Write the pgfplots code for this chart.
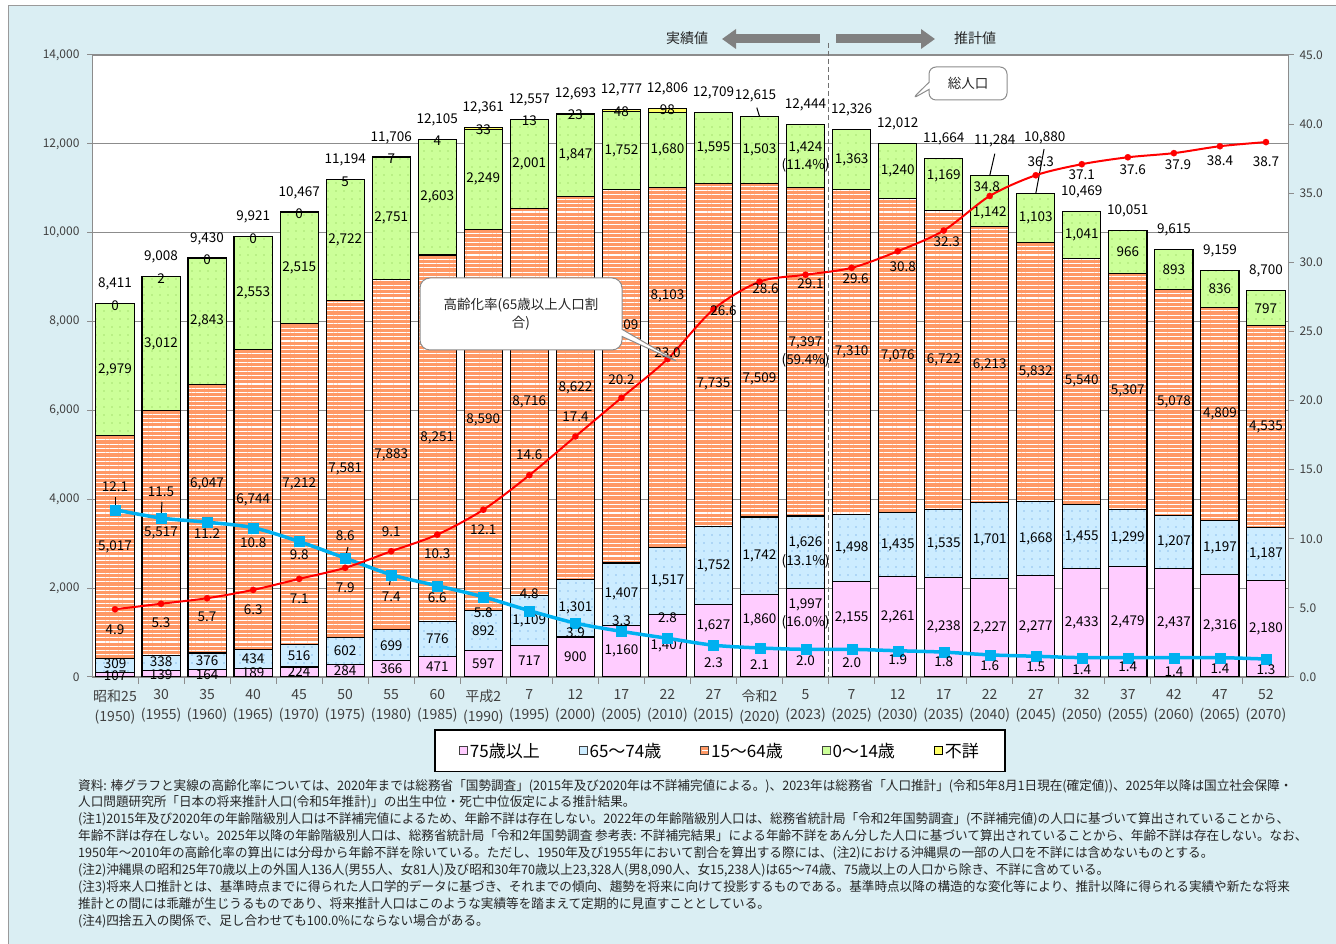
\documentclass[border=0pt]{standalone}
\usepackage{fontspec}
\setmainfont{Noto Sans CJK JP}
\usepackage{graphicx}
\usepackage{pgfplots}
\usepackage{pgfplotstable}
\pgfplotsset{compat=1.18}
\usetikzlibrary{patterns.meta,shapes.callouts,arrows.meta}

\definecolor{bgblue}{HTML}{DAEEF3}
\definecolor{framegray}{HTML}{9A9A9A}
\definecolor{c75}{HTML}{FFCCFF}
\definecolor{c65}{HTML}{CCECFF}
\definecolor{c15}{HTML}{FF9966}
\definecolor{c0}{HTML}{CCFF99}
\definecolor{cun}{HTML}{FFFF66}
\definecolor{dot65}{HTML}{4A90D9}
\definecolor{dot0}{HTML}{7CBF45}
\definecolor{lred}{HTML}{FF0000}
\definecolor{lblue}{HTML}{00B0F0}
\definecolor{tickgray}{HTML}{404040}
\definecolor{axgray}{HTML}{8C8C8C}
\definecolor{arrowgray}{HTML}{808080}

% a,b,c,d,e: 75+, 65-74, 15-64, 0-14, unknown (10k persons); t: total
% r: aging rate (%); w: persons 15-64 per person 65+
% *dy, *dx: label offsets in pt; pa..pd: shares in 2023 (%)
\pgfplotstableread{
x a b c d e t r w ady bdy cdy ddy pa pb pc pd tdy tdx rdy rdx wdy wdx
0 107 309 5017 2979 0 8411 4.9 12.1 -1 2 0 0 0 0 0 0 19.5 0 -20 0 23 0
1 139 338 5517 3012 2 9008 5.3 11.5 -1 2 0 0 0 0 0 0 19.5 0 -19 0 26 0
2 164 376 6047 2843 0 9430 5.7 11.2 -1 1 35 0 0 0 0 0 19.5 0 -19 0 -11 0
3 189 434 6744 2553 0 9921 6.3 10.8 0 0 0 0 0 0 0 0 19.5 0 -20 0 -15 0
4 224 516 7212 2515 0 10467 7.1 9.8 0 0 0 0 0 0 0 0 19.5 0 -20 0 -13 0
5 284 602 7581 2722 5 11194 7.9 8.6 0 0 0 0 0 0 0 0 19.5 0 -20 0 22 0
6 366 699 7883 2751 7 11706 9.1 7.4 0 0 0 0 0 0 0 0 19.5 0 20 0 -22 0
7 471 776 8251 2603 4 12105 10.3 6.6 0 0 0 0 0 0 0 0 19.5 0 -19 0 -12 0
8 597 892 8590 2249 33 12361 12.1 5.8 0 0 0 0 0 0 0 0 19.5 0 -20 0 -16 0
9 717 1109 8716 2001 13 12557 14.6 4.8 0 0 0 0 0 0 0 0 19.5 0 21 0 17 0
10 900 1301 8622 1847 23 12693 17.4 3.9 0 0 0 0 0 0 0 0 19.5 0 20 0 -10 0
11 1160 1407 8409 1752 48 12777 20.2 3.3 0 0 50 0 0 0 0 0 19.5 0 18 0 11 0
12 1407 1517 8103 1680 98 12806 23.0 2.8 0 0 71 0 0 0 0 0 19.5 0 6 0 21 0
13 1627 1752 7735 1595 0 12709 26.6 2.3 15 0 -29 0 0 0 0 0 19.5 0 -1 10 -17 0
14 1860 1742 7509 1503 0 12615 28.6 2.1 16 0 -29 0 0 0 0 0 21 -4 -7 6 -17 0
15 1997 1626 7397 1424 0 12444 29.1 2.0 28 9 9 8 16.0 13.1 59.4 11.4 19.5 0 -9 5 -11 0
16 2155 1498 7310 1363 0 12326 29.6 2.0 11 0 0 0 0 0 0 0 19.5 0 -11 4 -13 0
17 2261 1435 7076 1240 0 12012 30.8 1.9 10 0 0 0 0 0 0 0 19.5 0 -15 5 -9 0
18 2238 1535 6722 1169 0 11664 32.3 1.8 0 0 0 9 0 0 0 0 19.5 0 -11 3 -10 0
19 2227 1701 6213 1142 0 11284 34.8 1.6 0 0 0 -12 0 0 0 0 35 5 9 -3 -11 0
20 2277 1668 5832 1103 0 10880 36.3 1.5 0 0 0 0 0 0 0 0 56 9 14 5 -11 0
21 2433 1455 5540 1041 0 10469 37.1 1.4 0 0 0 0 0 0 0 0 19.5 0 -10 0 -12 0
22 2479 1299 5307 966 0 10051 37.6 1.4 0 0 0 0 0 0 0 0 19.5 0 -12 5 -9 0
23 2437 1207 5078 893 0 9615 37.9 1.4 0 0 0 0 0 0 0 0 19.5 0 -12 4 -14 0
24 2316 1197 4809 836 0 9159 38.4 1.4 0 0 0 0 0 0 0 0 19.5 0 -14 0 -11 0
25 2180 1187 4535 797 0 8700 38.7 1.3 0 0 0 0 0 0 0 0 19.5 0 -20 0 -11 0
}\data

\pgfplotsset{
  myaxis/.style={at={(92pt,266pt)}, anchor=south west, scale only axis,
    width=1197pt, height=622pt, xmin=-0.5, xmax=25.5,
    /pgf/number format/assume math mode=true},
  lbl/.style={draw=none, mark=none, point meta=explicit, nodes near coords,
    nodes near coords style={font=\fontsize{13.5}{18}\selectfont, text=black,
      anchor=center, inner sep=0pt,
      /pgf/number format/fixed, /pgf/number format/precision=0,
      /pgf/number format/1000 sep={,}}},
  shiftlbl/.style 2 args={lbl,
    visualization depends on={\thisrow{#1}\as\mydy},
    visualization depends on={\thisrow{#2}\as\mydx},
    nodes near coords style={yshift=\mydy pt, xshift=\mydx pt}},
  vshiftlbl/.style={lbl,
    visualization depends on={\thisrow{#1}\as\mydy},
    nodes near coords style={yshift=\mydy pt}},
  linelbl/.style 2 args={shiftlbl={#1}{#2},
    nodes near coords style={/pgf/number format/fixed zerofill,
      /pgf/number format/precision=1}},
  pctlbl/.style={lbl, x filter/.expression={x==15 ? x : nan},
    nodes near coords={(\pgfmathprintnumber{\pgfplotspointmeta}\%)},
    nodes near coords style={yshift=#1pt, /pgf/number format/fixed zerofill,
      /pgf/number format/precision=1}},
}

\begin{document}
\begin{tikzpicture}
\useasboundingbox (0pt,0pt) rectangle (1336pt,943pt);
\fill[white] (0pt,0pt) rectangle (1336pt,943pt);
\filldraw[fill=bgblue, draw=framegray, line width=1pt] (8pt,-5pt) rectangle (1345pt,937pt);

% ---------- stacked bars ----------
\begin{axis}[myaxis, ymin=0, ymax=14000,
  ybar stacked, bar width=0.83,
  axis background/.style={fill=white},
  axis line style={axgray, line width=1pt},
  ymajorgrids, grid style={axgray, line width=0.8pt},
  ytick={0,2000,...,14000}, ytick pos=left, scaled y ticks=false,
  yticklabel style={/pgf/number format/fixed, /pgf/number format/1000 sep={,},
    font=\fontsize{12}{14}\selectfont, text=tickgray, xshift=-4pt},
  xtick={0,...,25}, xtick pos=bottom,
  xticklabels={{昭和25\\(1950)},{30\\(1955)},{35\\(1960)},{40\\(1965)},{45\\(1970)},{50\\(1975)},{55\\(1980)},{60\\(1985)},{平成2\\(1990)},{7\\(1995)},{12\\(2000)},{17\\(2005)},{22\\(2010)},{27\\(2015)},{令和2\\(2020)},{5\\(2023)},{7\\(2025)},{12\\(2030)},{17\\(2035)},{22\\(2040)},{27\\(2045)},{32\\(2050)},{37\\(2055)},{42\\(2060)},{47\\(2065)},{52\\(2070)}},
  xticklabel style={align=center, font=\fontsize{14}{20}\selectfont, text=tickgray, yshift=-4pt},
  minor xtick={0.5,1.5,...,24.5},
  tick align=outside, major tick length=5pt, minor tick length=7pt,
  tick style={axgray, line width=1pt},
  major x tick style={draw=none},
  legend columns=5, legend cell align=left,
  legend style={at={(0.5246,-0.1185)}, anchor=center, draw=black, line width=1.5pt,
    fill=white, font=\fontsize{17}{20}\selectfont, inner xsep=24pt, inner ysep=11pt,
    /tikz/every even column/.append style={column sep=37pt}},
  legend entries={75歳以上, 65～74歳, 15～64歳, 0～14歳, 不詳},
]
\addplot[fill=c75, draw=black, line width=1.1pt,
  legend image code/.code={\draw[fill=c75, draw=black!75, line width=0.8pt] (0pt,-4pt) rectangle (8pt,4pt);}]
  table[x=x, y=a]{\data};
\addplot[preaction={fill=c65}, pattern={Dots[distance=8pt, radius=0.6pt]}, pattern color=dot65,
  draw=black, line width=1.1pt,
  legend image code/.code={\draw[fill=c65, draw=black!75, line width=0.8pt] (0pt,-4pt) rectangle (8pt,4pt);}]
  table[x=x, y=b]{\data};
\addplot[preaction={fill=c15}, pattern={Lines[angle=0, distance=4.3pt, line width=1.1pt]}, pattern color=white,
  draw=black, line width=1.1pt,
  legend image code/.code={\draw[fill=c15, draw=black!75, line width=0.8pt] (0pt,-4pt) rectangle (8pt,4pt);
    \draw[white, line width=1pt] (0.8pt,0pt) -- (7.2pt,0pt);}]
  table[x=x, y=c]{\data};
\addplot[preaction={fill=c0}, pattern={Dots[distance=8pt, radius=0.6pt]}, pattern color=dot0,
  draw=black, line width=1.1pt,
  legend image code/.code={\draw[fill=c0, draw=black!75, line width=0.8pt] (0pt,-4pt) rectangle (8pt,4pt);}]
  table[x=x, y=d]{\data};
\addplot[fill=cun, draw=black, line width=1.1pt, skip coords between index={13}{26},
  legend image code/.code={\draw[fill=cun, draw=black, line width=0.8pt] (0pt,-4pt) rectangle (8pt,4pt);}]
  table[x=x, y=e]{\data};
\end{axis}

% ---------- segment and total labels ----------
\begin{axis}[myaxis, ymin=0, ymax=14000, hide axis, clip=false]
\addplot[vshiftlbl=ady] table[x=x, y expr=\thisrow{a}/2, meta=a]{\data};
\addplot[vshiftlbl=bdy] table[x=x, y expr=\thisrow{a}+\thisrow{b}/2, meta=b]{\data};
\addplot[vshiftlbl=cdy] table[x=x, y expr=\thisrow{a}+\thisrow{b}+\thisrow{c}/2, meta=c]{\data};
\addplot[vshiftlbl=ddy] table[x=x, y expr=\thisrow{a}+\thisrow{b}+\thisrow{c}+\thisrow{d}/2, meta=d]{\data};
\addplot[pctlbl=10] table[x=x, y expr=\thisrow{a}/2, meta=pa]{\data};
\addplot[pctlbl=-9] table[x=x, y expr=\thisrow{a}+\thisrow{b}/2, meta=pb]{\data};
\addplot[pctlbl=-9] table[x=x, y expr=\thisrow{a}+\thisrow{b}+\thisrow{c}/2, meta=pc]{\data};
\addplot[pctlbl=-10] table[x=x, y expr=\thisrow{a}+\thisrow{b}+\thisrow{c}+\thisrow{d}/2, meta=pd]{\data};
\addplot[lbl, skip coords between index={13}{26}, nodes near coords style={yshift=-2pt}]
  table[x=x, y=t, meta=e]{\data};
\addplot[black, line width=1pt, quiver={u=\thisrow{u}, v=\thisrow{v}}] table{
x y u v
14 12615 -0.06 200
19 11284 0.11 495
20 10880 0.18 1004
};
\addplot[shiftlbl={tdy}{tdx}] table[x=x, y=t, meta=t]{\data};
\end{axis}

% ---------- lines on the right axis ----------
\begin{axis}[myaxis, ymin=0, ymax=45, axis y line*=right, axis x line=none, clip=false,
  axis line style={axgray, line width=1pt},
  ytick={0,5,...,45}, tick align=outside, major tick length=5pt,
  tick style={axgray, line width=1pt},
  yticklabel style={/pgf/number format/fixed, /pgf/number format/fixed zerofill,
    /pgf/number format/precision=1, font=\fontsize{12}{14}\selectfont, text=tickgray, xshift=2pt}]
\addplot[black, line width=1pt, quiver={u=\thisrow{u}, v=\thisrow{v}}] table{
x y u v
0 12.1 0 0.94
1 11.5 0.02 1.16
5 8.6 0.06 0.8
6 7.4 -0.04 -0.75
};
\addplot[lblue, line width=3.5pt, smooth, mark=square*, mark size=5pt,
  mark options={solid, fill=lblue, draw=lblue, line width=0.1pt}] table[x=x, y=w]{\data};
\addplot[lred, line width=2pt, smooth, mark=*, mark size=3.2pt,
  mark options={fill=lred, draw=lred, line width=0.1pt}] table[x=x, y=r]{\data};
\addplot[linelbl={rdy}{rdx}] table[x=x, y=r, meta=r]{\data};
\addplot[linelbl={wdy}{wdx}] table[x=x, y=w, meta=w]{\data};
\end{axis}

% ---------- decorations ----------
\draw[axgray!80!black, line width=1.5pt, dash pattern=on 5pt off 3pt] (828.6pt,900pt) -- (828.6pt,266pt);
\draw[arrowgray, line width=9pt, -{Triangle[width=19pt, length=14pt]}] (820pt,904pt) -- (722pt,904pt);
\draw[arrowgray, line width=9pt, -{Triangle[width=19pt, length=14pt]}] (836pt,904pt) -- (935pt,904pt);
\node[font=\fontsize{14}{16}\selectfont, text=black!85] at (687pt,905pt) {実績値};
\node[font=\fontsize{14}{16}\selectfont, text=black!85] at (975pt,905pt) {推計値};

\node[rectangle callout, rounded corners=10pt, draw=axgray, fill=white, line width=1pt,
  minimum width=202pt, minimum height=72pt, callout absolute pointer={(680pt,580pt)},
  align=center, font=\fontsize{13.5}{18}\selectfont, text=black!85] at (521pt,629pt)
  {高齢化率(65歳以上人口割\\合)};
\node[rectangle callout, rounded corners=7pt, draw=axgray, fill=white, line width=1pt,
  minimum width=78pt, minimum height=33pt, callout absolute pointer={(912pt,844pt)},
  font=\fontsize{13.5}{16}\selectfont, text=black!85] at (968pt,859.5pt) {総人口};

\node[anchor=north west, inner sep=0pt, text=black!85] at (78pt,165pt)
{\fontsize{13}{16.9}\selectfont\scalebox{0.97}[1]{\begin{tabular}{@{}l@{}}
資料: 棒グラフと実線の高齢化率については、2020年までは総務省「国勢調査」(2015年及び2020年は不詳補完値による。)、2023年は総務省「人口推計」(令和5年8月1日現在(確定値))、2025年以降は国立社会保障・\\
人口問題研究所「日本の将来推計人口(令和5年推計)」の出生中位・死亡中位仮定による推計結果。\\
(注1)2015年及び2020年の年齢階級別人口は不詳補完値によるため、年齢不詳は存在しない。2022年の年齢階級別人口は、総務省統計局「令和2年国勢調査」(不詳補完値)の人口に基づいて算出されていることから、\\
年齢不詳は存在しない。2025年以降の年齢階級別人口は、総務省統計局「令和2年国勢調査\ 参考表: 不詳補完結果」による年齢不詳をあん分した人口に基づいて算出されていることから、年齢不詳は存在しない。なお、\\
1950年～2010年の高齢化率の算出には分母から年齢不詳を除いている。ただし、1950年及び1955年において割合を算出する際には、(注2)における沖縄県の一部の人口を不詳には含めないものとする。\\
(注2)沖縄県の昭和25年70歳以上の外国人136人(男55人、女81人)及び昭和30年70歳以上23,328人(男8,090人、女15,238人)は65～74歳、75歳以上の人口から除き、不詳に含めている。\\
(注3)将来人口推計とは、基準時点までに得られた人口学的データに基づき、それまでの傾向、趨勢を将来に向けて投影するものである。基準時点以降の構造的な変化等により、推計以降に得られる実績や新たな将来\\
推計との間には乖離が生じうるものであり、将来推計人口はこのような実績等を踏まえて定期的に見直すこととしている。\\
(注4)四捨五入の関係で、足し合わせても100.0\%にならない場合がある。
\end{tabular}}};
\end{tikzpicture}
\end{document}
